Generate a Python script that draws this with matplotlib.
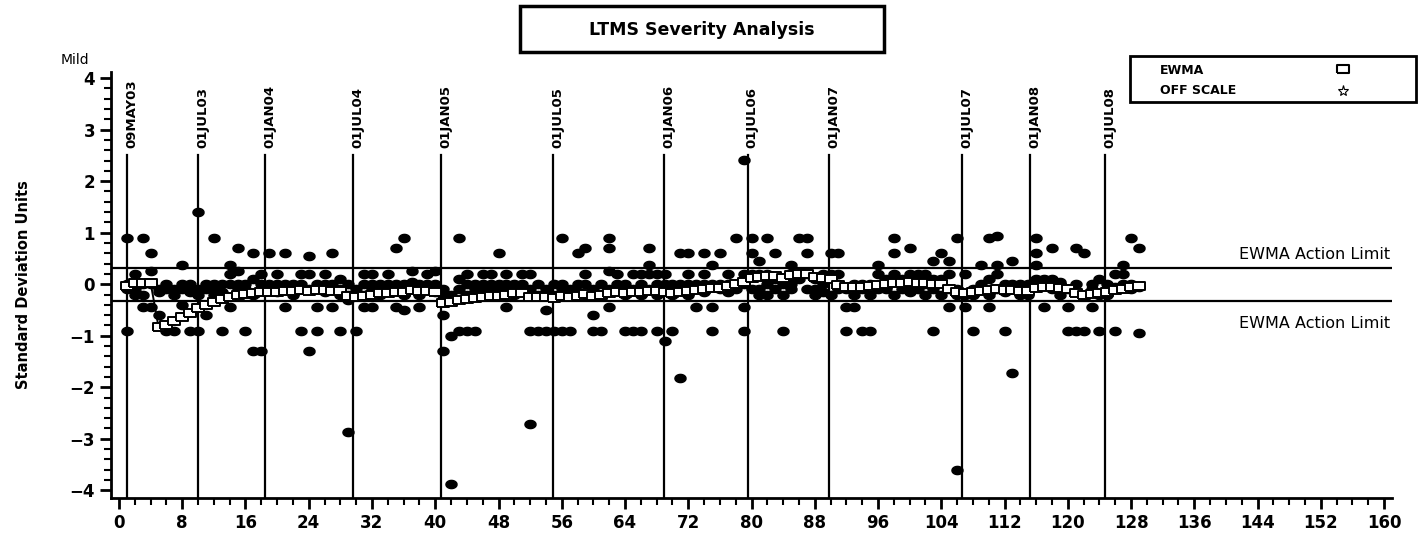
import numpy as np
import matplotlib
matplotlib.use("Agg")
import matplotlib.pyplot as plt
from matplotlib.path import Path
from matplotlib.patches import Rectangle
from matplotlib.lines import Line2D
from matplotlib.ticker import MultipleLocator

# severity results per test (test number = position + 1)
results = [
    [0.9, 0.0, -0.1, -0.9], [0.2, 0.0, -0.2, -0.1], [0.9, 0.0, -0.2, -0.45], [0.6, 0.25, 0.0, -0.45],
    [-0.6, -0.1, -0.15], [-0.9, -0.1, 0.0], [-0.9, -0.1, -0.2], [0.37, -0.4, -0.1, 0.0],
    [-0.9, -0.15, 0.0], [1.41, -0.9, -0.1, -0.2], [-0.6, 0.0, -0.1], [0.9, 0.0, -0.1, -0.2],
    [-0.9, 0.0, -0.15], [0.37, 0.2, -0.45, 0.0], [0.7, 0.25, 0.0, -0.1], [-0.9, 0.0, -0.1],
    [0.6, 0.1, -1.3, -0.2], [0.2, -1.3, 0.0, -0.1], [0.6, 0.0, -0.1], [0.2, 0.0, -0.15],
    [0.6, -0.45, 0.0, -0.1], [0.0, -0.1, -0.2], [0.2, -0.9, 0.0, -0.1], [0.55, 0.2, -1.3, -0.1],
    [-0.45, -0.9, 0.0, -0.1], [0.2, 0.0, -0.15], [0.6, -0.45, 0.0, -0.1], [0.1, -0.9, -0.1, -0.2],
    [-2.87, 0.0, -0.2, -0.3], [-0.9, -0.1, -0.2], [0.2, -0.45, 0.0, -0.2], [0.2, -0.45, 0.0, -0.1],
    [0.0, -0.1, -0.2], [0.2, 0.0, -0.15], [0.7, -0.45, 0.0, -0.1], [0.9, -0.5, 0.0, -0.2],
    [0.25, 0.05, 0.0, -0.1], [-0.45, 0.0, -0.1, -0.2], [0.2, 0.0, -0.1], [0.25, 0.0, -0.15],
    [-0.6, -1.3, -0.1, -0.2], [-3.88, -1.0, -0.2, -0.3], [0.9, 0.1, -0.9, -0.1], [0.2, -0.9, 0.0, -0.2],
    [-0.9, 0.0, -0.1], [0.2, 0.0, -0.15], [0.2, 0.0, -0.1], [0.6, 0.0, -0.1, -0.2],
    [0.2, -0.45, 0.0, -0.1], [0.0, -0.15, -0.2], [0.2, 0.0, -0.1], [0.2, -0.9, -2.72, -0.1, -0.2],
    [-0.9, 0.0, -0.2], [-0.5, -0.9, -0.1], [-0.9, 0.0, -0.2], [0.9, -0.9, 0.0, -0.1],
    [-0.9, -0.1, -0.2], [0.6, 0.0, -0.15], [0.7, 0.2, 0.0, -0.2], [-0.6, -0.9, -0.1],
    [-0.9, 0.0, -0.2], [0.9, 0.7, 0.25, -0.45, -0.1], [0.2, 0.0, -0.1], [-0.9, 0.0, -0.2],
    [0.2, -0.9, -0.1], [0.2, -0.9, 0.0, -0.2], [0.7, 0.37, 0.2, -0.1], [0.2, -0.9, 0.0, -0.2],
    [0.2, -1.1, 0.0, -0.1], [-0.9, 0.0, -0.2], [0.6, -1.82, 0.0, -0.1], [0.6, 0.2, 0.0, -0.2],
    [-0.45, 0.0, -0.1], [0.6, 0.2, 0.0, -0.15], [0.37, -0.45, -0.9, 0.0], [0.6, 0.0, -0.1],
    [0.2, 0.0, -0.15], [0.9, 0.0, -0.1], [2.42, 0.2, -0.45, -0.9, 0.0], [0.9, 0.6, 0.2, -0.1],
    [0.45, 0.2, -0.1, -0.2], [0.9, 0.2, 0.0, -0.2], [0.6, 0.1, -0.1], [-0.9, 0.0, -0.2],
    [0.37, 0.2, 0.0, -0.1], [0.9, 0.2, 0.1], [0.9, 0.6, 0.2, -0.1], [0.1, -0.2, -0.1],
    [0.2, 0.0, -0.15], [0.6, 0.2, -0.2], [0.6, 0.2, 0.0, -0.1], [-0.45, -0.9, -0.1],
    [-0.45, 0.0, -0.2], [-0.9, -0.1, 0.0], [-0.9, 0.0, -0.2], [0.37, 0.2, -0.1],
    [0.0, -0.1, 0.1], [0.9, 0.6, 0.2, -0.2], [0.1, 0.0, -0.1], [0.7, 0.2, 0.0, -0.15],
    [0.2, 0.05, -0.1], [0.2, 0.0, -0.2], [0.45, -0.9, 0.1, -0.1], [0.6, 0.1, -0.2],
    [0.45, 0.2, -0.45, -0.1], [0.9, -3.6, -0.1, -0.2], [0.2, -0.45, -0.2], [-0.9, -0.1, -0.2],
    [0.37, 0.0, -0.1], [0.9, 0.1, -0.45, -0.2], [0.93, 0.37, 0.2, -0.1], [-0.9, 0.0, -0.15],
    [0.45, -1.72, 0.0, -0.1], [0.0, -0.1, -0.2], [0.0, -0.15, -0.2], [0.9, 0.6, 0.37, 0.1],
    [0.1, -0.45, 0.0], [0.7, 0.1, -0.1], [0.0, -0.2, 0.05], [-0.45, -0.9, -0.1],
    [0.7, -0.9, 0.0], [0.6, -0.9, -0.2], [-0.45, 0.0, -0.1], [-0.9, 0.1, -0.2],
    [0.0, -0.1, -0.2], [0.2, -0.9, -0.05], [0.37, 0.2, 0.0], [0.9, 0.0, -0.1],
    [0.7, -0.95, -0.05],
]

ewma = [
    -0.03, 0.02, 0.03, 0.03, -0.83, -0.79, -0.72, -0.63, -0.55, -0.47,
    -0.40, -0.34, -0.28, -0.24, -0.21, -0.19, -0.17, -0.16, -0.15, -0.15,
    -0.13, -0.14, -0.12, -0.13, -0.12, -0.11, -0.13, -0.14, -0.22, -0.24,
    -0.22, -0.21, -0.18, -0.17, -0.16, -0.15, -0.12, -0.13, -0.14, -0.15,
    -0.37, -0.35, -0.30, -0.28, -0.27, -0.24, -0.23, -0.22, -0.20, -0.18,
    -0.17, -0.25, -0.24, -0.25, -0.26, -0.23, -0.24, -0.22, -0.19, -0.22,
    -0.21, -0.17, -0.16, -0.17, -0.15, -0.16, -0.13, -0.14, -0.15, -0.18,
    -0.16, -0.13, -0.11, -0.10, -0.08, -0.07, -0.04, 0.00, 0.05, 0.12,
    0.14, 0.16, 0.15, 0.13, 0.18, 0.20, 0.19, 0.14, 0.12, 0.10,
    -0.02, -0.05, -0.06, -0.05, -0.04, -0.02, 0.00, 0.02, 0.03, 0.04,
    0.03, 0.02, 0.01, 0.00, -0.10, -0.15, -0.17, -0.16, -0.14, -0.12,
    -0.10, -0.11, -0.12, -0.13, -0.14, -0.08, -0.06, -0.05, -0.07, -0.10,
    -0.18, -0.20, -0.19, -0.17, -0.15, -0.12, -0.10, -0.05, -0.04,
]

date_pos = [1, 10, 18.5, 29.6, 40.7, 54.9, 68.9, 79.5, 89.8, 106.6, 115.2, 124.7]
date_labels = ["09MAY03", "01JUL03", "01JAN04", "01JUL04", "01JAN05", "01JUL05",
               "01JAN06", "01JUL06", "01JAN07", "01JUL07", "01JAN08", "01JUL08"]
action_limit = 0.32

# marker shapes
t = np.linspace(0, 2 * np.pi, 40)
dot = Path(np.column_stack([1.35 * np.cos(t), np.sin(t)]))
box = Path([(-1.5, -1), (1.5, -1), (1.5, 1), (-1.5, 1), (-1.5, -1)])

xs, ys = [], []
for i, vals in enumerate(results):
    for v in vals:
        xs.append(i + 1)
        ys.append(v)

fig = plt.figure(figsize=(14.24, 5.37), dpi=100)
ax = fig.add_axes([0.078, 0.0726, 0.8995, 0.7934])

for p, lab in zip(date_pos, date_labels):
    ax.plot([p, p], [-4.15, 2.5], color="black", lw=1.6, zorder=1)
    ax.text(p + 0.6, 2.64, lab, rotation=90, ha="center", va="bottom",
            fontsize=9.5, fontweight="bold")

ax.axhline(action_limit, color="black", lw=1.6, zorder=1)
ax.axhline(-action_limit, color="black", lw=1.6, zorder=1)
ax.text(160.8, action_limit + 0.12, "EWMA Action Limit", ha="right", va="bottom", fontsize=11.5)
ax.text(160.8, -action_limit - 0.3, "EWMA Action Limit", ha="right", va="top", fontsize=11.5)

ax.plot(xs, ys, linestyle="none", marker=dot, ms=8, color="black", zorder=3)
ax.plot(range(1, len(ewma) + 1), ewma, color="black", lw=1.4, marker=box, ms=9,
        mfc="white", mec="black", mew=1.4, zorder=4)

ax.set_xlim(-1, 161)
ax.set_ylim(-4.15, 4.12)
ax.xaxis.set_major_locator(MultipleLocator(8))
ax.xaxis.set_minor_locator(MultipleLocator(2))
ax.yaxis.set_major_locator(MultipleLocator(1))
ax.yaxis.set_minor_locator(MultipleLocator(0.2))
ax.spines["top"].set_visible(False)
ax.spines["right"].set_visible(False)
for s in ("left", "bottom"):
    ax.spines[s].set_linewidth(2)
ax.tick_params(which="major", length=8, width=2, labelsize=12)
ax.tick_params(which="minor", length=5, width=1.5)
for lbl in ax.get_xticklabels() + ax.get_yticklabels():
    lbl.set_fontweight("bold")

ax.set_ylabel("Standard Deviation Units", fontsize=10.5, fontweight="bold", labelpad=28)
fig.text(75 / 1424, 1 - 60 / 537, "Mild", ha="center", va="center", fontsize=10)

# title box
fig.add_artist(Rectangle((520 / 1424, 1 - 52 / 537), 364 / 1424, 46 / 537,
                         transform=fig.transFigure, fill=False, ec="black", lw=2.5))
fig.text(702 / 1424, 1 - 30 / 537, "LTMS Severity Analysis", ha="center", va="center",
         fontsize=12.5, fontweight="heavy")

# legend box
fig.add_artist(Rectangle((1130 / 1424, 1 - 102 / 537), 286 / 1424, 46 / 537,
                         transform=fig.transFigure, fill=False, ec="black", lw=2))
fig.text(1160 / 1424, 1 - 70 / 537, "EWMA", ha="left", va="center", fontsize=9, fontweight="bold")
fig.text(1160 / 1424, 1 - 91 / 537, "OFF SCALE", ha="left", va="center", fontsize=9, fontweight="bold")
fig.add_artist(Line2D([1343 / 1424], [1 - 69 / 537], transform=fig.transFigure, marker=box, ms=8,
                      mfc="white", mec="black", mew=1.5, linestyle="none"))
fig.add_artist(Line2D([1343 / 1424], [1 - 91 / 537], transform=fig.transFigure, marker="*", ms=8,
                      mfc="white", mec="black", mew=0.8, linestyle="none"))

fig.savefig("out.png", dpi=100)
